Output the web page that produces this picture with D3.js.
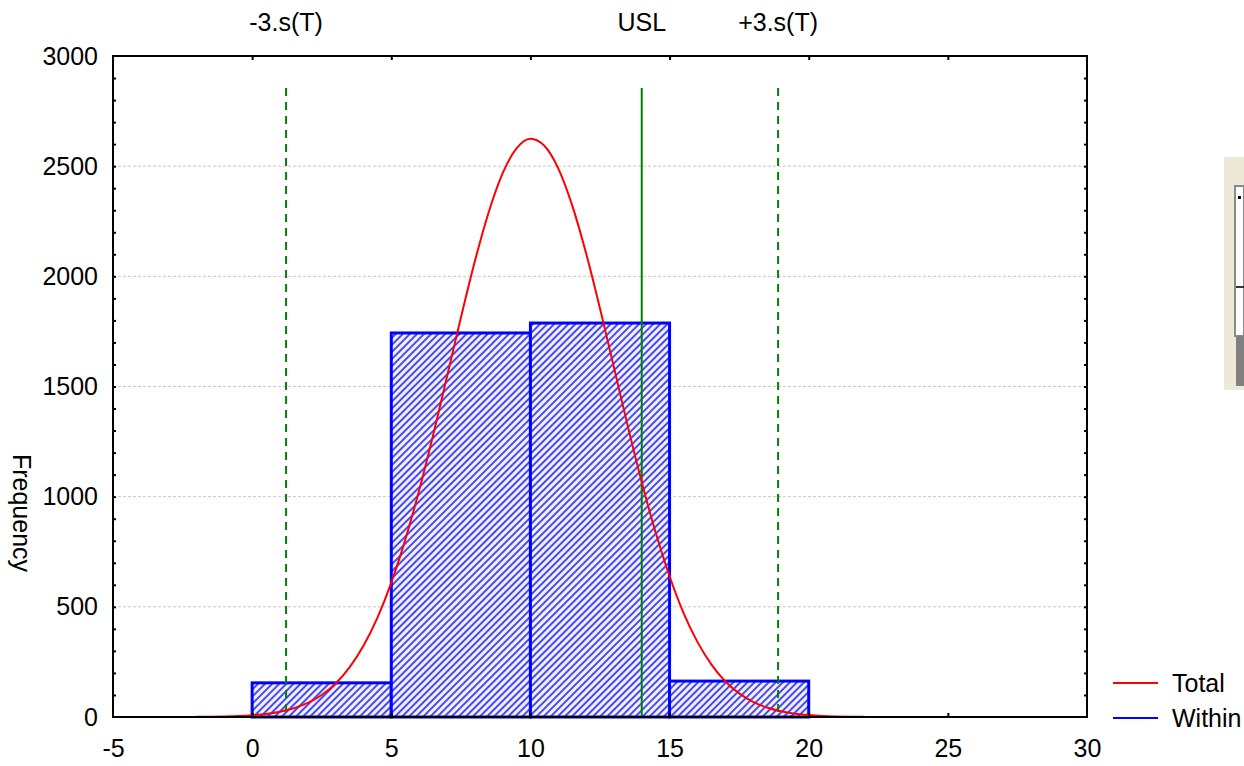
<!DOCTYPE html>
<html>
<head>
<meta charset="utf-8">
<script src="https://cdn.jsdelivr.net/npm/d3@7"></script>
<style>
  html, body { margin: 0; padding: 0; background: #fff; }
  svg { display: block; font-family: "Liberation Sans", Arial, sans-serif; }
</style>
</head>
<body>
<svg id="chart" width="1244" height="766"></svg>
<script>
// ---------- data ----------
const binStarts = [0, 5, 10, 15];
const binEnds   = [5, 10, 15, 20];
const binCounts = [155, 1743, 1788, 163];

const curveX = [-2,-1.5,-1,-0.5,0,0.5,1,1.5,2,2.5,3,3.5,4,4.5,5,5.5,6,6.5,7,7.5,8,8.5,9,9.5,10,
                10.5,11,11.5,12,12.5,13,13.5,14,14.5,15,15.5,16,16.5,17,17.5,18,18.5,19,19.5,20,20.5,21,21.5,22];
const curveY = [0.6,1.2,2.4,4.4,8,14,24,40,64,100,152,225,323,450,610,804,1028,1278,1544,1812,2067,2291,2467,2581,2625,
                2593,2490,2322,2105,1854,1587,1319,1066,837,639,473,341,239,162,107,69,43,26,15,9,5,2.6,1.3,0.7];

const refLabels = ["-3.s(T)", "USL", "+3.s(T)"];
const refValues = [1.22, 14.0, 18.9];
const refDashed = [true, false, true];
const refTop = 2855;

const xTicks = [-5, 0, 5, 10, 15, 20, 25, 30];
const yTicks = [0, 500, 1000, 1500, 2000, 2500, 3000];
const yMinorTicks = d3.range(100, 3000, 100);
const legendLabels = ["Total", "Within"];
const legendColors = ["#ff0000", "#0000ff"];

// ---------- layout ----------
const svg = d3.select("#chart");
const x = d3.scaleLinear().domain([-5, 30]).range([113, 1087]);
const y = d3.scaleLinear().domain([0, 3000]).range([717, 56]);
const FS = 25;

// hatch pattern
const defs = svg.append("defs");
const pat = defs.append("pattern")
  .attr("id", "hatch").attr("patternUnits", "userSpaceOnUse")
  .attr("width", 5).attr("height", 5)
  .attr("patternTransform", "rotate(45)");
pat.append("rect").attr("width", 5).attr("height", 5).attr("fill", "#f2f2ff");
pat.append("rect").attr("width", 2).attr("height", 5).attr("fill", "#4a4af2");

// gridlines
svg.append("g").selectAll("line").data(yTicks.filter(d => d > 0 && d < 3000)).join("line")
  .attr("x1", x(-5)).attr("x2", x(30))
  .attr("y1", d => y(d)).attr("y2", d => y(d))
  .attr("stroke", "#c8c8c8").attr("stroke-width", 1).attr("stroke-dasharray", "3,2");

// bars
svg.append("g").selectAll("rect").data(binCounts).join("rect")
  .attr("x", (d, i) => x(binStarts[i]))
  .attr("width", (d, i) => x(binEnds[i]) - x(binStarts[i]))
  .attr("y", d => y(d))
  .attr("height", d => y(0) - y(d))
  .attr("fill", "url(#hatch)")
  .attr("stroke", "#0000ff").attr("stroke-width", 3);

// reference lines
svg.append("g").selectAll("line").data(refValues).join("line")
  .attr("x1", d => x(d)).attr("x2", d => x(d))
  .attr("y1", y(refTop)).attr("y2", y(0))
  .attr("stroke", "#008000").attr("stroke-width", 2)
  .attr("stroke-dasharray", (d, i) => refDashed[i] ? "8,6" : null);

// curve
const pts = curveX.map((v, i) => [v, curveY[i]]);
svg.append("path").datum(pts)
  .attr("d", d3.line().x(d => x(d[0])).y(d => y(d[1])).curve(d3.curveMonotoneX))
  .attr("fill", "none").attr("stroke", "#ff0000").attr("stroke-width", 2);

// frame
svg.append("rect").attr("x", x(-5)).attr("y", y(3000))
  .attr("width", x(30) - x(-5)).attr("height", y(0) - y(3000))
  .attr("fill", "none").attr("stroke", "#000").attr("stroke-width", 2);

// inward ticks
const tickG = svg.append("g").attr("class", "ticks");
tickG.append("g").attr("transform", `translate(0,${y(0)})`)
  .call(d3.axisBottom(x).tickValues(xTicks.slice(1, -1)).tickSize(-4).tickFormat(""));
tickG.append("g").attr("transform", `translate(0,${y(3000)})`)
  .call(d3.axisTop(x).tickValues(xTicks.slice(1, -1)).tickSize(-4).tickFormat(""));
tickG.append("g").attr("transform", `translate(${x(-5)},0)`)
  .call(d3.axisLeft(y).tickValues(yMinorTicks).tickSize(-3).tickFormat(""));
tickG.append("g").attr("transform", `translate(${x(30)},0)`)
  .call(d3.axisRight(y).tickValues(yMinorTicks).tickSize(-3).tickFormat(""));
tickG.selectAll(".domain").remove();
tickG.selectAll(".tick line").attr("stroke", "#000").attr("stroke-width", 2);

// labels
const xAx = svg.append("g").attr("transform", `translate(0,${y(0)})`)
  .call(d3.axisBottom(x).tickValues(xTicks).tickSize(0).tickPadding(22).tickFormat(d => String(d)));
const yAx = svg.append("g").attr("transform", `translate(${x(-5)},0)`)
  .call(d3.axisLeft(y).tickValues(yTicks).tickSize(0).tickPadding(15).tickFormat(d => String(d)));
[xAx, yAx].forEach(g => {
  g.select(".domain").remove();
  g.selectAll("text").attr("font-size", FS).attr("fill", "#000")
    .attr("font-family", "'Liberation Sans', Arial, sans-serif");
});

// top labels
svg.append("g").selectAll("text").data(refLabels).join("text")
  .attr("x", (d, i) => x(refValues[i])).attr("y", 31)
  .attr("text-anchor", "middle").attr("font-size", FS).attr("fill", "#000")
  .text(d => d);

// y axis title
svg.append("text").attr("transform", "translate(13,513) rotate(90)")
  .attr("text-anchor", "middle").attr("font-size", FS).attr("fill", "#000")
  .text("Frequency");

// legend
const lg = svg.append("g").selectAll("g").data(legendLabels).join("g")
  .attr("transform", (d, i) => `translate(1113,${683 + i * 35})`);
lg.append("line").attr("x1", 0).attr("x2", 45).attr("y1", 0).attr("y2", 0)
  .attr("stroke", (d, i) => legendColors[i]).attr("stroke-width", 2);
lg.append("text").attr("x", 59).attr("y", 0).attr("dy", "0.36em")
  .attr("font-size", FS).attr("fill", "#000").text(d => d);

// clipped window fragment at right edge
const w = svg.append("g");
w.append("rect").attr("x", 1224).attr("y", 157).attr("width", 20).attr("height", 233).attr("fill", "#ece9d8");
w.append("rect").attr("x", 1235).attr("y", 186).attr("width", 9).attr("height", 150).attr("fill", "#fff")
  .attr("stroke", "#8a8a8a").attr("stroke-width", 2);
w.append("rect").attr("x", 1238).attr("y", 196).attr("width", 3).attr("height", 3).attr("fill", "#000");
w.append("line").attr("x1", 1236).attr("x2", 1244).attr("y1", 287).attr("y2", 287).attr("stroke", "#333").attr("stroke-width", 2);
w.append("rect").attr("x", 1236).attr("y", 336).attr("width", 8).attr("height", 50).attr("fill", "#808080");
</script>
</body>
</html>
